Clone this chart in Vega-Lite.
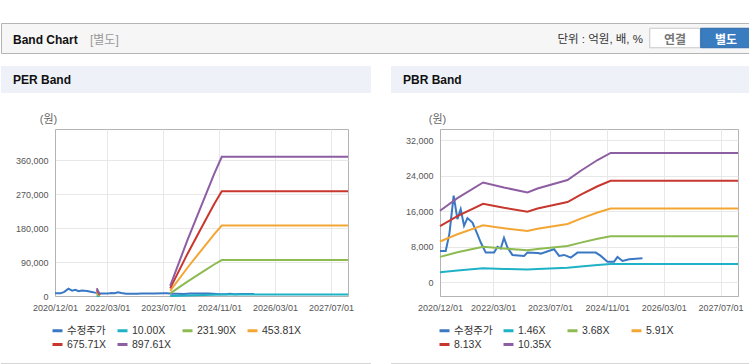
{
  "$schema": "https://vega.github.io/schema/vega-lite/v6.json",
  "padding": {"top": 22, "left": 0, "right": 0, "bottom": 0},
  "background": "white",
  "config": {
    "font": "'Liberation Sans', 'Noto Sans CJK KR', sans-serif",
    "view": {"stroke": null},
    "axis": {"labelFontSize": 9, "labelColor": "#555", "tickSize": 0, "gridColor": "#e8e8e8", "domainColor": "#b4b4b4", "titleFontWeight": "normal", "labelFlush": false, "labelOverlap": false}
  },
  "datasets": {
    "price": [
      {"d": "2020-12-01", "v": 7050}, {"d": "2021-01-19", "v": 7050}, {"d": "2021-02-20", "v": 11000},
      {"d": "2021-03-28", "v": 19500}, {"d": "2021-04-29", "v": 14200}, {"d": "2021-05-27", "v": 16450},
      {"d": "2021-06-25", "v": 12700}, {"d": "2021-07-24", "v": 14430}, {"d": "2021-09-05", "v": 13430},
      {"d": "2021-10-17", "v": 10820}, {"d": "2021-11-15", "v": 8930}, {"d": "2021-12-28", "v": 6670},
      {"d": "2022-03-09", "v": 6670}, {"d": "2022-04-07", "v": 7960}, {"d": "2022-05-05", "v": 7600},
      {"d": "2022-06-02", "v": 10000}, {"d": "2022-07-02", "v": 7800}, {"d": "2022-08-13", "v": 6150},
      {"d": "2022-11-21", "v": 5930}, {"d": "2022-12-20", "v": 6670}, {"d": "2023-03-16", "v": 6600},
      {"d": "2023-04-13", "v": 6450}, {"d": "2023-07-08", "v": 7210}, {"d": "2023-08-05", "v": 7440},
      {"d": "2023-09-17", "v": 5930}, {"d": "2023-10-30", "v": 6150}, {"d": "2023-12-26", "v": 5540},
      {"d": "2024-02-21", "v": 6670}, {"d": "2024-07-27", "v": 6670}, {"d": "2024-09-08", "v": 5930},
      {"d": "2024-11-04", "v": 4640}, {"d": "2024-12-31", "v": 4640}, {"d": "2025-01-29", "v": 5700},
      {"d": "2025-03-13", "v": 4800}, {"d": "2025-05-09", "v": 5180}, {"d": "2025-08-31", "v": 5400}
    ],
    "per": [
      {"d": "2021-11-29", "s": "10.00X", "v": 230}, {"d": "2021-11-29", "s": "231.90X", "v": 5334}, {"d": "2021-11-29", "s": "453.81X", "v": 10438}, {"d": "2021-11-29", "s": "675.71X", "v": 15541}, {"d": "2021-11-29", "s": "897.61X", "v": 20645},
      {"d": "2021-12-27", "s": "10.00X", "v": 40}, {"d": "2021-12-27", "s": "231.90X", "v": 928}, {"d": "2021-12-27", "s": "453.81X", "v": 1815}, {"d": "2021-12-27", "s": "675.71X", "v": 2703}, {"d": "2021-12-27", "s": "897.61X", "v": 3590},
      {"d": "2022-06-01", "s": "10.00X", "v": null}, {"d": "2022-06-01", "s": "231.90X", "v": null}, {"d": "2022-06-01", "s": "453.81X", "v": null}, {"d": "2022-06-01", "s": "675.71X", "v": null}, {"d": "2022-06-01", "s": "897.61X", "v": null},
      {"d": "2023-08-31", "s": "10.00X", "v": 300}, {"d": "2023-08-31", "s": "231.90X", "v": 6957}, {"d": "2023-08-31", "s": "453.81X", "v": 13614}, {"d": "2023-08-31", "s": "675.71X", "v": 20271}, {"d": "2023-08-31", "s": "897.61X", "v": 26928},
      {"d": "2024-01-28", "s": "10.00X", "v": 1650}, {"d": "2024-01-28", "s": "231.90X", "v": 38264}, {"d": "2024-01-28", "s": "453.81X", "v": 74879}, {"d": "2024-01-28", "s": "675.71X", "v": 111492}, {"d": "2024-01-28", "s": "897.61X", "v": 148106},
      {"d": "2024-06-21", "s": "10.00X", "v": 2870}, {"d": "2024-06-21", "s": "231.90X", "v": 66555}, {"d": "2024-06-21", "s": "453.81X", "v": 130243}, {"d": "2024-06-21", "s": "675.71X", "v": 193929}, {"d": "2024-06-21", "s": "897.61X", "v": 257614},
      {"d": "2024-09-16", "s": "10.00X", "v": 3600}, {"d": "2024-09-16", "s": "231.90X", "v": 83484}, {"d": "2024-09-16", "s": "453.81X", "v": 163372}, {"d": "2024-09-16", "s": "675.71X", "v": 243256}, {"d": "2024-09-16", "s": "897.61X", "v": 323140},
      {"d": "2024-11-22", "s": "10.00X", "v": 4110}, {"d": "2024-11-22", "s": "231.90X", "v": 95311}, {"d": "2024-11-22", "s": "453.81X", "v": 186516}, {"d": "2024-11-22", "s": "675.71X", "v": 277717}, {"d": "2024-11-22", "s": "897.61X", "v": 368918},
      {"d": "2027-11-26", "s": "10.00X", "v": 4110}, {"d": "2027-11-26", "s": "231.90X", "v": 95311}, {"d": "2027-11-26", "s": "453.81X", "v": 186516}, {"d": "2027-11-26", "s": "675.71X", "v": 277717}, {"d": "2027-11-26", "s": "897.61X", "v": 368918}
    ],
    "pbr": [
      {"d": "2020-12-01", "s": "1.46X", "v": 2267}, {"d": "2020-12-01", "s": "3.68X", "v": 5715}, {"d": "2020-12-01", "s": "5.91X", "v": 9178}, {"d": "2020-12-01", "s": "8.13X", "v": 12626}, {"d": "2020-12-01", "s": "10.35X", "v": 16074},
      {"d": "2021-04-29", "s": "1.46X", "v": 2670}, {"d": "2021-04-29", "s": "3.68X", "v": 6731}, {"d": "2021-04-29", "s": "5.91X", "v": 10809}, {"d": "2021-04-29", "s": "8.13X", "v": 14870}, {"d": "2021-04-29", "s": "10.35X", "v": 18930},
      {"d": "2021-12-05", "s": "1.46X", "v": 3167}, {"d": "2021-12-05", "s": "3.68X", "v": 7982}, {"d": "2021-12-05", "s": "5.91X", "v": 12819}, {"d": "2021-12-05", "s": "8.13X", "v": 17634}, {"d": "2021-12-05", "s": "10.35X", "v": 22449},
      {"d": "2022-06-01", "s": "1.46X", "v": 3008}, {"d": "2022-06-01", "s": "3.68X", "v": 7581}, {"d": "2022-06-01", "s": "5.91X", "v": 12175}, {"d": "2022-06-01", "s": "8.13X", "v": 16748}, {"d": "2022-06-01", "s": "10.35X", "v": 21321},
      {"d": "2022-12-20", "s": "1.46X", "v": 2850}, {"d": "2022-12-20", "s": "3.68X", "v": 7183}, {"d": "2022-12-20", "s": "5.91X", "v": 11536}, {"d": "2022-12-20", "s": "8.13X", "v": 15870}, {"d": "2022-12-20", "s": "10.35X", "v": 20203},
      {"d": "2023-03-16", "s": "1.46X", "v": 2977}, {"d": "2023-03-16", "s": "3.68X", "v": 7504}, {"d": "2023-03-16", "s": "5.91X", "v": 12050}, {"d": "2023-03-16", "s": "8.13X", "v": 16577}, {"d": "2023-03-16", "s": "10.35X", "v": 21104},
      {"d": "2023-11-28", "s": "1.46X", "v": 3243}, {"d": "2023-11-28", "s": "3.68X", "v": 8173}, {"d": "2023-11-28", "s": "5.91X", "v": 13126}, {"d": "2023-11-28", "s": "8.13X", "v": 18057}, {"d": "2023-11-28", "s": "10.35X", "v": 22987},
      {"d": "2024-03-21", "s": "1.46X", "v": 3539}, {"d": "2024-03-21", "s": "3.68X", "v": 8920}, {"d": "2024-03-21", "s": "5.91X", "v": 14326}, {"d": "2024-03-21", "s": "8.13X", "v": 19707}, {"d": "2024-03-21", "s": "10.35X", "v": 25088},
      {"d": "2024-08-11", "s": "1.46X", "v": 3879}, {"d": "2024-08-11", "s": "3.68X", "v": 9778}, {"d": "2024-08-11", "s": "5.91X", "v": 15703}, {"d": "2024-08-11", "s": "8.13X", "v": 21601}, {"d": "2024-08-11", "s": "10.35X", "v": 27500},
      {"d": "2024-12-01", "s": "1.46X", "v": 4103}, {"d": "2024-12-01", "s": "3.68X", "v": 10341}, {"d": "2024-12-01", "s": "5.91X", "v": 16607}, {"d": "2024-12-01", "s": "8.13X", "v": 22845}, {"d": "2024-12-01", "s": "10.35X", "v": 29084},
      {"d": "2027-11-27", "s": "1.46X", "v": 4103}, {"d": "2027-11-27", "s": "3.68X", "v": 10341}, {"d": "2027-11-27", "s": "5.91X", "v": 16607}, {"d": "2027-11-27", "s": "8.13X", "v": 22845}, {"d": "2027-11-27", "s": "10.35X", "v": 29084}
    ]
  },
  "bounds": "flush",
  "align": "none",
  "spacing": 0,
  "vconcat": [
    {
      "width": 749, "height": 30,
      "view": {"fill": "#f6f6f6", "stroke": "#b4b4b4"},
      "data": {"values": [{}]},
      "layer": [
        {"mark": {"type": "point", "shape": "M-1,-0.386H1V0.386H-1Z", "size": 2550, "filled": true, "fill": "#ffffff", "stroke": "#c8c8c8", "strokeWidth": 1, "opacity": 1, "dy": 1},
         "encoding": {"x": {"datum": 674, "type": "quantitative", "scale": {"domain": [0, 749], "nice": false, "zero": false}, "axis": null}}},
        {"mark": {"type": "point", "shape": "M-1,-0.386H1V0.386H-1Z", "size": 2550, "filled": true, "fill": "#3a7cc0", "stroke": "#2f6aa8", "strokeWidth": 1, "opacity": 1, "dy": 1},
         "encoding": {"x": {"datum": 725, "type": "quantitative"}}},
        {"mark": {"type": "text", "text": "Band Chart", "align": "left", "fontWeight": "bold", "fontSize": 12, "color": "#111", "dy": 1.5},
         "encoding": {"x": {"datum": 12, "type": "quantitative"}}},
        {"mark": {"type": "text", "text": "[별도]", "align": "left", "fontSize": 12, "color": "#999", "dy": 1.5},
         "encoding": {"x": {"datum": 89, "type": "quantitative"}}},
        {"mark": {"type": "text", "text": "단위 : 억원, 배, %", "align": "right", "fontSize": 11.5, "color": "#333", "dy": 1.5},
         "encoding": {"x": {"datum": 642, "type": "quantitative"}}},
        {"mark": {"type": "text", "text": "연결", "align": "center", "fontSize": 12, "fontWeight": "bold", "color": "#777", "dy": 1.5},
         "encoding": {"x": {"datum": 674, "type": "quantitative"}}},
        {"mark": {"type": "text", "text": "별도", "align": "center", "fontSize": 12, "fontWeight": "bold", "color": "#ffffff", "dy": 1.5},
         "encoding": {"x": {"datum": 725, "type": "quantitative"}}}
      ]
    },
    {"width": 1, "height": 13, "data": {"values": []}, "mark": "point", "encoding": {}},
    {
      "bounds": "flush",
      "align": "none",
      "spacing": 20,
      "hconcat": [
        {"width": 370, "height": 27, "view": {"fill": "#eef2f8", "stroke": null},
         "title": {"text": "PER Band", "anchor": "start", "frame": "group", "dx": 12, "offset": -21, "fontSize": 12, "fontWeight": "bold", "color": "#111"},
         "data": {"values": []}, "mark": "point", "encoding": {}},
        {"width": 359, "height": 27, "view": {"fill": "#eef2f8", "stroke": null},
         "title": {"text": "PBR Band", "anchor": "start", "frame": "group", "dx": 12, "offset": -21, "fontSize": 12, "fontWeight": "bold", "color": "#111"},
         "data": {"values": []}, "mark": "point", "encoding": {}}
      ]
    },
    {"width": 1, "height": 63, "data": {"values": []}, "mark": "point", "encoding": {}},
    {
      "bounds": "flush",
      "align": "none",
      "spacing": 0,
      "resolve": {"scale": {"color": "independent", "x": "independent", "y": "independent"}, "legend": {"color": "independent"}},
      "hconcat": [
        {"width": 54, "height": 167, "data": {"values": []}, "mark": "point", "encoding": {}},
        {
          "width": 293, "height": 167,
          "view": {"stroke": "#b4b4b4"},
          "layer": [
            {"data": {"name": "price"},
             "mark": {"type": "line", "strokeWidth": 2},
             "encoding": {
               "x": {"field": "d", "type": "temporal", "scale": {"type": "utc", "domain": [{"year": 2020, "month": 12, "date": 1, "utc": true}, {"year": 2027, "month": 11, "date": 26, "utc": true}]},
                     "axis": {"title": null, "format": "%Y/%m/%d", "labelPadding": 7, "values": [{"year": 2020, "month": 12, "date": 1, "utc": true}, {"year": 2022, "month": 3, "date": 1, "utc": true}, {"year": 2023, "month": 7, "date": 1, "utc": true}, {"year": 2024, "month": 11, "date": 1, "utc": true}, {"year": 2026, "month": 3, "date": 1, "utc": true}, {"year": 2027, "month": 7, "date": 1, "utc": true}]}},
               "y": {"field": "v", "type": "quantitative", "scale": {"domain": [0, 442500], "nice": false, "zero": false},
                     "axis": {"values": [0, 90000, 180000, 270000, 360000], "format": ",d", "labelPadding": 7, "title": "(원)", "titleAngle": 0, "titleAlign": "center", "titleBaseline": "middle", "titleX": -7, "titleY": -10, "titleFontSize": 11, "titleColor": "#666"}},
               "color": {"datum": "수정주가", "type": "nominal"}
             }},
            {"data": {"name": "per"},
             "mark": {"type": "line", "strokeWidth": 2, "invalid": "break-paths-show-domains"},
             "encoding": {
               "x": {"field": "d", "type": "temporal"},
               "y": {"field": "v", "type": "quantitative"},
               "color": {"field": "s", "type": "nominal",
                 "scale": {"domain": ["수정주가", "10.00X", "231.90X", "453.81X", "675.71X", "897.61X"], "range": ["#3a78c4", "#1fb2c6", "#8dbb52", "#f4a634", "#c8372d", "#8e5ea2"]},
                 "legend": {"title": null, "orient": "none", "legendX": -4, "legendY": 195, "columns": 4, "direction": "horizontal", "symbolType": "stroke", "symbolStrokeWidth": 3, "symbolSize": 100, "labelFontSize": 10.5, "labelColor": "#333", "labelOffset": 3, "columnPadding": 4, "rowPadding": 1, "gridAlign": "all"}}
             }}
          ]
        },
        {"width": 92, "height": 167, "data": {"values": []}, "mark": "point", "encoding": {}},
        {
          "width": 298, "height": 167,
          "view": {"stroke": "#b4b4b4"},
          "layer": [
            {"data": {"name": "price"},
             "mark": {"type": "line", "strokeWidth": 2},
             "encoding": {
               "x": {"field": "d", "type": "temporal", "scale": {"type": "utc", "domain": [{"year": 2020, "month": 12, "date": 1, "utc": true}, {"year": 2027, "month": 11, "date": 27, "utc": true}]},
                     "axis": {"title": null, "format": "%Y/%m/%d", "labelPadding": 7, "values": [{"year": 2020, "month": 12, "date": 1, "utc": true}, {"year": 2022, "month": 3, "date": 1, "utc": true}, {"year": 2023, "month": 7, "date": 1, "utc": true}, {"year": 2024, "month": 11, "date": 1, "utc": true}, {"year": 2026, "month": 3, "date": 1, "utc": true}, {"year": 2027, "month": 7, "date": 1, "utc": true}]}},
               "y": {"field": "v", "type": "quantitative", "scale": {"domain": [-3090, 34480], "nice": false, "zero": false},
                     "axis": {"values": [0, 8000, 16000, 24000, 32000], "format": ",d", "labelPadding": 7, "title": "(원)", "titleAngle": 0, "titleAlign": "center", "titleBaseline": "middle", "titleX": -3, "titleY": -10, "titleFontSize": 11, "titleColor": "#666"}},
               "color": {"datum": "수정주가", "type": "nominal"}
             }},
            {"data": {"name": "pbr"},
             "mark": {"type": "line", "strokeWidth": 2},
             "encoding": {
               "x": {"field": "d", "type": "temporal"},
               "y": {"field": "v", "type": "quantitative"},
               "color": {"field": "s", "type": "nominal",
                 "scale": {"domain": ["수정주가", "1.46X", "3.68X", "5.91X", "8.13X", "10.35X"], "range": ["#3a78c4", "#1fb2c6", "#8dbb52", "#f4a634", "#c8372d", "#8e5ea2"]},
                 "legend": {"title": null, "orient": "none", "legendX": -2, "legendY": 195, "columns": 4, "direction": "horizontal", "symbolType": "stroke", "symbolStrokeWidth": 3, "symbolSize": 100, "labelFontSize": 10.5, "labelColor": "#333", "labelOffset": 3, "columnPadding": 4, "rowPadding": 1, "gridAlign": "all"}}
             }}
          ]
        }
      ]
    },
    {"width": 1, "height": 234, "data": {"values": []}, "mark": "point", "encoding": {}},
    {
      "bounds": "flush",
      "align": "none",
      "spacing": 20,
      "hconcat": [
        {"width": 370, "height": 1, "view": {"fill": "#d6d6d6", "stroke": null}, "data": {"values": []}, "mark": "point", "encoding": {}},
        {"width": 359, "height": 1, "view": {"fill": "#d6d6d6", "stroke": null}, "data": {"values": []}, "mark": "point", "encoding": {}}
      ]
    }
  ]
}
